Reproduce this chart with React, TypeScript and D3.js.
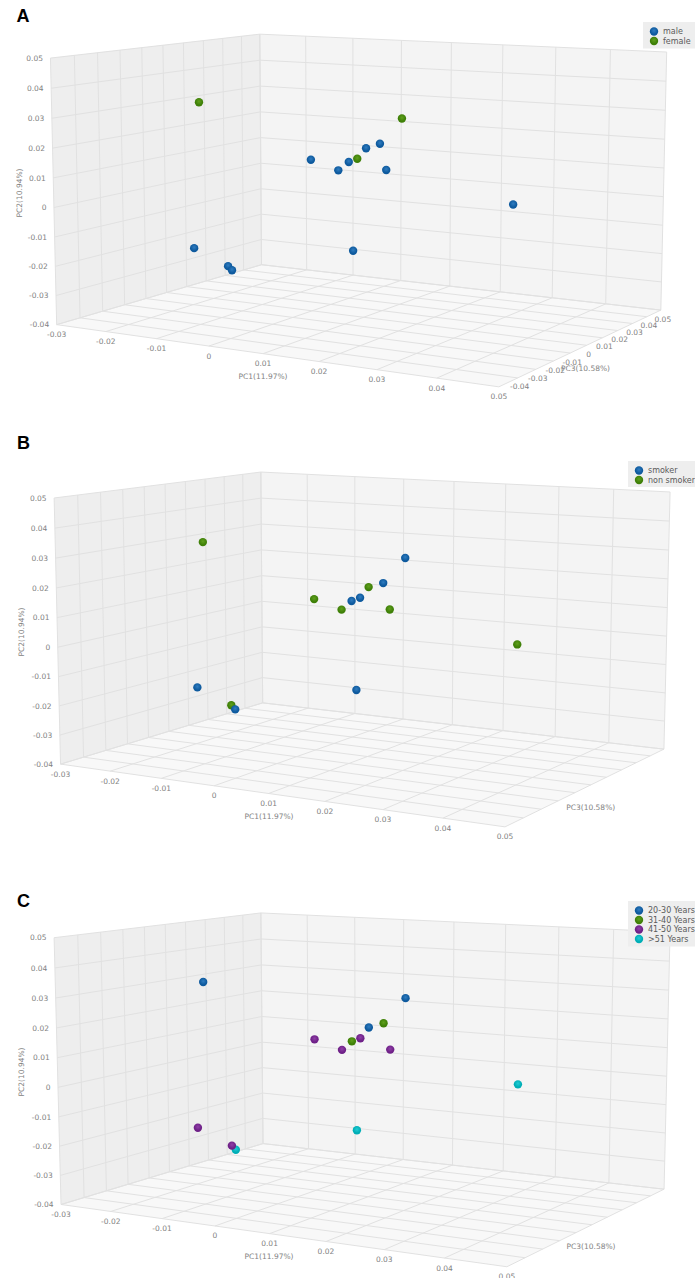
import React from 'react';
import * as d3 from 'd3';

// PCA scores (same 14 samples in each)
const pc1 = [-0.0111, 0.0104, 0.0073, -0.0018, -0.0015, -0.0003, -0.0024, 0.0014, 0.0105, 0.0346, 0.0036, -0.0179, -0.0135, -0.013];
const pc2 = [0.0348, 0.0261, 0.0173, 0.0119, 0.0085, 0.0096, 0.0118, 0.008, 0.0094, 0.0018, -0.0205, -0.0185, -0.0252, -0.0267];
const pc3 = [-0.027, 0.0198, 0.0165, 0.0346, 0.024, 0.0254, 0.006, 0.0103, 0.0108, 0.0085, 0.0122, -0.0142, -0.0083, -0.0076];

// series index of each sample in each panel
const sexGroup = [1, 1, 0, 0, 0, 1, 0, 0, 0, 0, 0, 0, 0, 0];
const smokerGroup = [1, 0, 0, 1, 0, 0, 1, 1, 1, 1, 0, 0, 1, 0];
const ageGroup = [0, 0, 1, 0, 1, 2, 2, 2, 2, 3, 3, 2, 2, 3];

const sexNames = ['male', 'female'];
const smokerNames = ['smoker', 'non smoker'];
const ageNames = ['20-30 Years', '31-40 Years', '41-50 Years', '>51 Years'];

const seriesColors = ['#0e5a9e', '#3f8008', '#6f2188', '#00aeb6'];
const seriesLight = ['#2f7cc0', '#5fa01c', '#9040a8', '#20ccd4'];

const pc1Ticks = [-0.03, -0.02, -0.01, 0, 0.01, 0.02, 0.03, 0.04, 0.05];
const pc2Ticks = [-0.04, -0.03, -0.02, -0.01, 0, 0.01, 0.02, 0.03, 0.04, 0.05];
const pc3Ticks = [-0.05, -0.04, -0.03, -0.02, -0.01, 0, 0.01, 0.02, 0.03, 0.04, 0.05];

const xNorm = d3.scaleLinear().domain([-0.03, 0.05]).range([0, 1]);
const yNorm = d3.scaleLinear().domain([-0.04, 0.05]).range([0, 1]);
const zNorm = d3.scaleLinear().domain([-0.05, 0.05]).range([0, 1]);

// box corners used to fit the perspective of each panel
const CUBE = [[0, 1, 0], [0, 1, 1], [1, 1, 1], [0, 0, 0], [0, 0, 1], [1, 0, 1], [1, 0, 0]];

const solve = (M: number[][], b: number[]) => {
  const n = b.length;
  const a = M.map((r, i) => [...r, b[i]]);
  for (let i = 0; i < n; i++) {
    let p = i;
    for (let k = i + 1; k < n; k++) if (Math.abs(a[k][i]) > Math.abs(a[p][i])) p = k;
    [a[i], a[p]] = [a[p], a[i]];
    for (let k = i + 1; k < n; k++) {
      const f = a[k][i] / a[i][i];
      for (let j = i; j <= n; j++) a[k][j] -= f * a[i][j];
    }
  }
  const x = new Array(n).fill(0);
  for (let i = n - 1; i >= 0; i--) {
    let s = a[i][n];
    for (let j = i + 1; j < n; j++) s -= a[i][j] * x[j];
    x[i] = s / a[i][i];
  }
  return x;
};

const fitCamera = (px: number[][]) => {
  const R: number[][] = [];
  const b: number[] = [];
  CUBE.forEach(([x, y, z], i) => {
    const [u, v] = px[i];
    R.push([x, y, z, 1, 0, 0, 0, 0, -u * x, -u * y, -u * z]); b.push(u);
    R.push([0, 0, 0, 0, x, y, z, 1, -v * x, -v * y, -v * z]); b.push(v);
  });
  const n = 11;
  const M = d3.range(n).map(i => d3.range(n).map(j => d3.sum(R, r => r[i] * r[j])));
  const v = d3.range(n).map(i => d3.sum(R, (r, k) => r[i] * b[k]));
  const P = [...solve(M, v), 1];
  return (x: number, y: number, z: number): [number, number] => {
    const X = xNorm(x), Y = yNorm(y), Z = zNorm(z);
    const w = P[8] * X + P[9] * Y + P[10] * Z + P[11];
    return [(P[0] * X + P[1] * Y + P[2] * Z + P[3]) / w, (P[4] * X + P[5] * Y + P[6] * Z + P[7]) / w];
  };
};

const line = d3.line();
const font = '"DejaVu Sans", sans-serif';

function Panel({ cfg }: { cfg: any }) {
  const project = fitCamera(cfg.corners);
  const [x0, x1] = [pc1Ticks[0], pc1Ticks[pc1Ticks.length - 1]];
  const [y0, y1] = [pc2Ticks[0], pc2Ticks[pc2Ticks.length - 1]];
  const [z0, z1] = [pc3Ticks[0], pc3Ticks[pc3Ticks.length - 1]];

  const gridLines: [number, number][][] = [
    ...pc3Ticks.map(z => [project(x0, y0, z), project(x0, y1, z)]),
    ...pc2Ticks.map(y => [project(x0, y, z0), project(x0, y, z1)]),
    ...pc1Ticks.map(x => [project(x, y0, z1), project(x, y1, z1)]),
    ...pc2Ticks.map(y => [project(x0, y, z1), project(x1, y, z1)]),
    ...pc1Ticks.map(x => [project(x, y0, z0), project(x, y0, z1)]),
    ...pc3Ticks.map(z => [project(x0, y0, z), project(x1, y0, z)]),
  ];
  const walls = [
    { fill: '#eeeeee', pts: [project(x0, y0, z0), project(x0, y1, z0), project(x0, y1, z1), project(x0, y0, z1)] },
    { fill: '#f4f4f4', pts: [project(x0, y0, z1), project(x0, y1, z1), project(x1, y1, z1), project(x1, y0, z1)] },
    { fill: '#f8f8f8', pts: [project(x0, y0, z0), project(x0, y0, z1), project(x1, y0, z1), project(x1, y0, z0)] },
  ];
  // earlier series sit on top, later samples above earlier ones of a series
  const order = d3.range(pc1.length).sort((a, b) => cfg.group[b] - cfg.group[a] || a - b);
  const tickFill = '#828282';

  return (
    <g fontFamily={font} fontSize={7.5}>
      {walls.map((w, i) => <path key={i} d={`${line(w.pts)}Z`} fill={w.fill} />)}
      {gridLines.map((l, i) => <path key={i} d={line(l) as string} fill="none" stroke="#e1e1e1" strokeWidth={1} />)}

      {pc2Ticks.map(y => {
        const [px, py] = project(x0, y, z0);
        return <text key={y} x={px - 7.5} y={py + 2.7} textAnchor="end" fill={tickFill}>{String(y)}</text>;
      })}
      {pc1Ticks.map(x => {
        const [px, py] = project(x, y0, z0);
        return <text key={x} x={px} y={py + 12.5} textAnchor="middle" fill={tickFill}>{String(x)}</text>;
      })}
      {cfg.zLabels && pc3Ticks.slice(1).map(z => {
        const [px, py] = project(x1, y0, z);
        return <text key={z} x={px + 2} y={py + 11.5} textAnchor="middle" fill={tickFill}>{String(z)}</text>;
      })}

      <text x={cfg.pc1Pos[0]} y={cfg.pc1Pos[1] + 2.7} textAnchor="middle" fill={tickFill}>PC1(11.97%)</text>
      <text x={cfg.pc3Pos[0]} y={cfg.pc3Pos[1] + 2.7} textAnchor="middle" fill={tickFill}>PC3(10.58%)</text>
      <text transform={`translate(${cfg.pc2Pos[0] + 2.7},${cfg.pc2Pos[1]}) rotate(-90)`} textAnchor="middle" fill={tickFill}>PC2(10.94%)</text>

      {order.map(i => {
        const [px, py] = project(pc1[i], pc2[i], pc3[i]);
        return <circle key={i} cx={px} cy={py} r={4.2} fill={`url(#ball${cfg.group[i]})`} />;
      })}

      <rect x={cfg.legend.x} y={cfg.legend.y} width={695 - cfg.legend.x} height={cfg.legend.h} fill="#eeeeee" />
      {cfg.names.map((name: string, i: number) => {
        const cy = cfg.legend.y + 9.5 + i * 9.5;
        return (
          <g key={name}>
            <circle cx={cfg.legend.x + 11} cy={cy} r={4.2} fill={`url(#ball${i})`} />
            <text x={cfg.legend.x + 20} y={cy + 2.9} fontSize={8} fill="#5a5a5a">{name}</text>
          </g>
        );
      })}
      <text x={cfg.letter[0]} y={cfg.letter[1]} fontFamily='"Liberation Sans", Arial, sans-serif' fontWeight="bold" fontSize={18} fill="#000">{cfg.label}</text>
    </g>
  );
}

const panels = [
  {
    label: 'A', letter: [16.5, 22], group: sexGroup, names: sexNames, zLabels: true,
    corners: [[50.5, 58.3], [259.7, 34], [666.7, 52], [56.5, 324.3], [261.7, 265], [660.7, 310], [499, 387]],
    pc1Pos: [263, 376], pc2Pos: [19.5, 193], pc3Pos: [585.5, 368], legend: { x: 643, y: 22, h: 26.5 },
  },
  {
    label: 'B', letter: [17, 448.7], group: smokerGroup, names: smokerNames, zLabels: false,
    corners: [[54, 498], [261, 472], [670, 492], [60.7, 764], [262.5, 703], [664, 749], [505, 827]],
    pc1Pos: [269, 816.7], pc2Pos: [21, 632], pc3Pos: [590.7, 807], legend: { x: 628, y: 461, h: 26 },
  },
  {
    label: 'C', letter: [17, 906.7], group: ageGroup, names: ageNames, zLabels: false,
    corners: [[54, 938], [261, 912.7], [670, 932], [61, 1204], [263, 1144], [664, 1189], [507, 1267]],
    pc1Pos: [269, 1256], pc2Pos: [21, 1072], pc3Pos: [591, 1246.7], legend: { x: 628, y: 901, h: 45.5 },
  },
];

export default function App() {
  return (
    <svg width={695} height={1278} style={{ position: 'absolute', left: 0, top: 0 }}>
      <defs>
        {seriesColors.map((c, i) => (
          <radialGradient key={i} id={`ball${i}`} cx="0.5" cy="0.4" r="0.6">
            <stop offset="0%" stopColor={seriesLight[i]} />
            <stop offset="70%" stopColor={c} />
            <stop offset="100%" stopColor={c} />
          </radialGradient>
        ))}
      </defs>
      {panels.map(p => <Panel key={p.label} cfg={p} />)}
    </svg>
  );
}
